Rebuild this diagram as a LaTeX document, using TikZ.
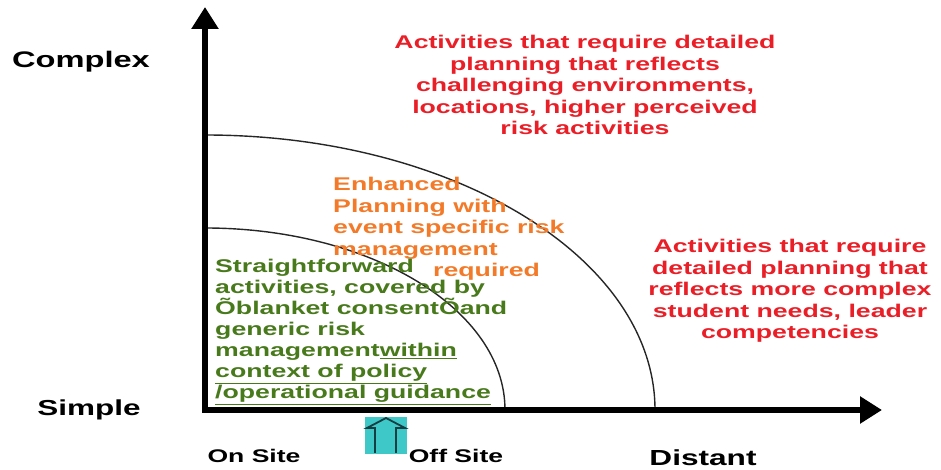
\documentclass[tikz,border=0pt]{standalone}
\usepackage{fontspec}
\setmainfont[FakeStretch=1.45]{Liberation Sans}
\usetikzlibrary{arrows.meta}
\definecolor{riskred}{RGB}{234,30,38}
\definecolor{planorange}{RGB}{242,122,40}
\definecolor{simplegreen}{RGB}{72,122,28}
\definecolor{markcyan}{RGB}{62,200,200}
\definecolor{markline}{RGB}{20,62,66}
\begin{document}
\begin{tikzpicture}[x=1pt,y=1pt,
  axis/.style={line width=5.5pt,-{Triangle[length=22pt,width=26pt]}},
  zone/.style={line width=1.4pt,black!85},
  body/.style={font=\bfseries\fontsize{18.4}{21.5}\selectfont,inner sep=0pt},
  axislabel/.style={font=\bfseries\fontsize{#1}{#1}\selectfont,inner sep=0pt,anchor=base}]
\useasboundingbox (0,0) rectangle (941,470);
% zones
\draw[zone] (205,335) arc[start angle=90,end angle=0,x radius=450,y radius=275];
\draw[zone] (205,242) arc[start angle=90,end angle=0,x radius=300,y radius=182];
% axes
\coordinate (origin) at (205,60);
\coordinate (ytip) at (205,463);
\coordinate (xtip) at (882,60);
\draw[axis] ([yshift=-2.75pt]origin) -- (ytip);
\draw[axis] ([xshift=-2.75pt]origin) -- (xtip);
% axis labels
\node[axislabel=22.5] (complex) at (81,402) {Complex};
\node[axislabel=21.7] (simple) at (89,54) {Simple};
\node[axislabel=18.3] (onsite) at (254,7) {On Site};
\node[axislabel=18.3] (offsite) at (456,7) {Off Site};
\node[axislabel=21.8] (distant) at (703,4.5) {Distant};
% marker
\fill[markcyan] (365,16) rectangle (407,53);
\draw[markline,line width=1.8pt,line join=miter]
  (375,17) -- (375,42) -- (367,42) -- (386,52) -- (405,42) -- (396,42) -- (396,17);
% zone texts
\node[body,text=riskred,align=center,anchor=north] (complexzone) at (585,435)
  {Activities that require detailed\\planning that reflects\\challenging environments,\\locations, higher perceived\\risk activities};
\node[body,text=riskred,align=center,anchor=north] (distantzone) at (790,231)
  {Activities that require\\detailed planning that\\reflects more complex\\student needs, leader\\competencies};
\node[body,text=planorange,align=left,anchor=north west] (enhanced) at (333,293)
  {Enhanced\\Planning with\\event specific risk\\management\\\hspace*{100pt}required};
\node[body,text=simplegreen,align=left,anchor=north west,
  font=\bfseries\fontsize{18.4}{21}\selectfont] (straight) at (215,211)
  {Straightforward\\activities, covered by\\Õblanket consentÕand\\generic risk\\management\underline{within}\\\underline{context of policy}\\\underline{/operational guidance}};
\end{tikzpicture}
\end{document}
